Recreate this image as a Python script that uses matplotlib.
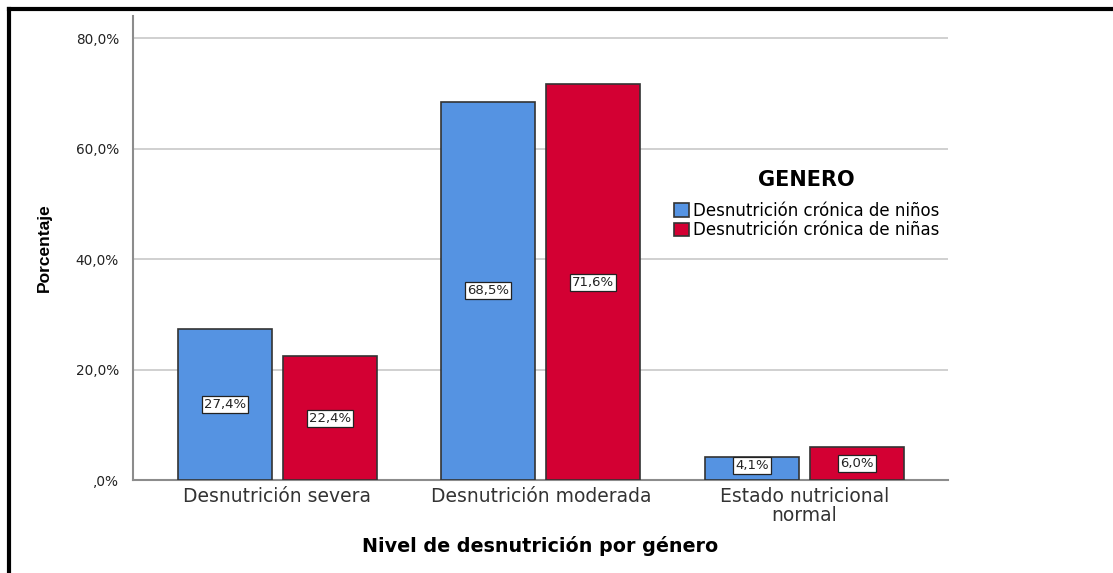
import matplotlib.pyplot as plt
import numpy as np
from matplotlib.lines import Line2D

categorias = ['Desnutrición severa', 'Desnutrición moderada', 'Estado nutricional\nnormal']
ninos = [27.4, 68.5, 4.1]
ninas = [22.4, 71.6, 6.0]
series = ['Desnutrición crónica de niños', 'Desnutrición crónica de niñas']
yticks = [0, 20, 40, 60, 80]
yticklabels = [',0%', '20,0%', '40,0%', '60,0%', '80,0%']

azul = '#5593E2'
rojo = '#D30033'

plt.rcParams['font.family'] = ['DejaVu Sans']

fig = plt.figure(figsize=(11.13, 5.73), dpi=100)
ax = fig.add_axes([133/1113, 1 - 480/573, (948-133)/1113, (480-16)/573])

x = np.arange(len(categorias))
w = 0.357
off = 0.199
b1 = ax.bar(x - off, ninos, w, color=azul, edgecolor='#333333', linewidth=1.2, label=series[0], zorder=3)
b2 = ax.bar(x + off, ninas, w, color=rojo, edgecolor='#333333', linewidth=1.2, label=series[1], zorder=3)

for bars, vals in [(b1, ninos), (b2, ninas)]:
    for b, v in zip(bars, vals):
        yy = max(v / 2, 2.6)
        ax.text(b.get_x() + b.get_width()/2, yy, ('%.1f%%' % v).replace('.', ','),
                ha='center', va='center', fontsize=9.5, color='#222222', zorder=4,
                bbox=dict(boxstyle='square,pad=0.15', fc='white', ec='#222222', lw=0.9))

ax.set_xlim(-0.548, 2.545)
ax.set_ylim(0, 84.0)
ax.set_yticks(yticks)
ax.set_yticklabels(yticklabels, fontsize=9.8, color='#222222')
ax.set_xticks(x)
ax.set_xticklabels(categorias, fontsize=13.5, color='#333333', linespacing=1.0)
ax.tick_params(axis='both', length=0, pad=5)
ax.tick_params(axis='y', pad=10)
ax.grid(axis='y', color='#c8c8c8', linewidth=1.2, zorder=0)
for s in ['top', 'right']:
    ax.spines[s].set_visible(False)
for s in ['left', 'bottom']:
    ax.spines[s].set_color('#8c8c8c')
    ax.spines[s].set_linewidth(1.5)

ax.set_ylabel('Porcentaje', fontsize=12.5, fontweight='bold',
              family=['Liberation Sans Narrow', 'DejaVu Sans Condensed', 'Liberation Sans'], labelpad=17)
ax.set_xlabel('Nivel de desnutrición por género', fontsize=13.8, fontweight='bold', labelpad=8)

leg = ax.legend(title='GENERO', loc='upper left', bbox_to_anchor=(0.653, 0.685), frameon=False,
                fontsize=12, handlelength=0.9, handleheight=0.9, handletextpad=0.25,
                labelspacing=0.1, borderpad=0)
leg.get_title().set_fontweight('bold')
leg.get_title().set_fontsize(15)
leg._legend_box.sep = 8

# marco negro de la figura
fig.add_artist(Line2D([9/1113, 9/1113], [0, 1 - 9/573], color='black', lw=3))
fig.add_artist(Line2D([9/1113, 1], [1 - 9/573, 1 - 9/573], color='black', lw=3))

fig.savefig('out.png', dpi=100)
